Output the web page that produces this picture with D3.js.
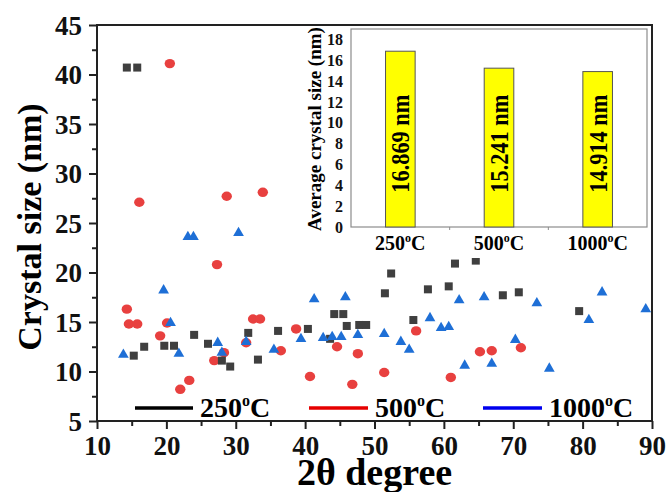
<!DOCTYPE html>
<html>
<head>
<meta charset="utf-8">
<script src="https://cdn.jsdelivr.net/npm/d3@7"></script>
<style>
  body { margin: 0; background: #fff; }
  svg text { font-family: "Liberation Serif", "Times New Roman", serif; font-weight: bold; }
</style>
</head>
<body>
<div id="chart"></div>
<script>
// crystal size vs 2theta, three annealing temperatures
var pts250 = [[14.3,40.7],[15.8,40.7],[15.3,11.6],[16.8,12.5],[19.7,12.6],[21.1,12.6],[24.0,13.7],[26.0,12.8],
  [28.0,11.1],[29.2,10.5],[31.8,13.9],[33.2,11.2],[36.1,14.1],[40.4,14.3],[43.6,13.3],[44.2,15.8],[45.5,15.8],
  [46.0,14.6],[47.8,14.7],[48.8,14.7],[51.5,17.9],[52.4,19.9],[55.6,15.2],[57.7,18.3],[60.7,18.6],[61.6,20.9],
  [64.6,21.2],[68.5,17.7],[70.8,18.0],[79.5,16.1]];
var pts500 = [[20.5,41.1],[16.1,27.1],[28.7,27.7],[33.9,28.1],[14.3,16.3],[14.6,14.8],[15.8,14.8],[19.1,13.6],
  [20.1,14.9],[22.0,8.2],[23.3,9.1],[27.3,20.8],[26.9,11.1],[28.3,11.9],[31.5,12.9],[32.5,15.3],[33.5,15.3],
  [36.5,12.1],[38.7,14.3],[40.7,9.5],[44.6,12.5],[47.6,11.8],[46.8,8.7],[51.4,9.9],[56.0,14.1],[61.0,9.4],
  [65.2,12.0],[66.9,12.1],[71.1,12.4]];
var pts1000 = [[13.8,11.7],[19.6,18.2],[20.6,14.9],[21.8,11.8],[23.1,23.6],[23.9,23.6],[30.4,24.0],[27.4,12.9],
  [28.0,11.9],[31.5,13.0],[35.5,12.2],[39.4,13.3],[41.3,17.3],[42.6,13.4],[43.9,13.5],[45.2,13.5],[45.8,17.5],
  [47.6,13.7],[51.4,13.8],[53.8,13.0],[55.0,12.2],[58.0,15.4],[59.6,14.4],[60.7,14.5],[62.2,17.2],[63.0,10.6],
  [65.8,17.5],[66.9,10.8],[70.3,13.2],[73.4,16.9],[75.2,10.3],[80.9,15.2],[82.8,18.0],[89.1,16.3]];

var xTicks = [10, 20, 30, 40, 50, 60, 70, 80, 90];
var yTicks = [5, 10, 15, 20, 25, 30, 35, 40, 45];

// inset
var temps = ["250", "500", "1000"];
var avgSize = [16.869, 15.241, 14.914];
var insetTicks = [0, 2, 4, 6, 8, 10, 12, 14, 16, 18];

(function draw() {
    var width = 669, height = 492;
    var pLeft = 97, pRight = 652, pTop = 25, pBottom = 421;

    var svg = d3.select("#chart").append("svg")
        .attr("width", width)
        .attr("height", height);

    var x = d3.scaleLinear().domain([10, 90]).range([pLeft, pRight]);
    var y = d3.scaleLinear().domain([5, 45]).range([pBottom, pTop]);

    // frame
    svg.append("rect")
        .attr("x", pLeft).attr("y", pTop)
        .attr("width", pRight - pLeft).attr("height", pBottom - pTop)
        .attr("fill", "none").attr("stroke", "#222").attr("stroke-width", 2);

    // axes
    var xAxis = svg.append("g").attr("transform", "translate(0," + pBottom + ")")
        .call(d3.axisBottom(x).tickValues(xTicks).tickSize(8).tickPadding(5));
    var xMinor = svg.append("g").attr("transform", "translate(0," + pBottom + ")")
        .call(d3.axisBottom(x).tickValues(d3.range(15, 90, 10)).tickSize(5).tickFormat(""));
    var yAxis = svg.append("g").attr("transform", "translate(" + pLeft + ",0)")
        .call(d3.axisLeft(y).tickValues(yTicks).tickSize(8).tickPadding(7));
    var yMinor = svg.append("g").attr("transform", "translate(" + pLeft + ",0)")
        .call(d3.axisLeft(y).tickValues(d3.range(7.5, 45, 5)).tickSize(5).tickFormat(""));

    [xAxis, xMinor, yAxis, yMinor].forEach(function(g) {
        g.select(".domain").remove();
        g.selectAll("line").attr("stroke", "#222").attr("stroke-width", 2);
        g.selectAll("text").attr("fill", "#111").style("font-size", "27px");
    });
    xAxis.selectAll("text").attr("dy", "0.78em");
    yAxis.selectAll("text").attr("dy", "0.34em");

    // axis titles
    svg.append("text")
        .attr("x", (pLeft + pRight) / 2).attr("y", 485)
        .attr("text-anchor", "middle")
        .style("font-size", "38px")
        .text("2θ degree");

    svg.append("text")
        .attr("transform", "translate(41,227) rotate(-90)")
        .attr("text-anchor", "middle")
        .style("font-size", "34px")
        .text("Crystal size (nm)");

    // points
    svg.append("g").selectAll("ellipse")
        .data(pts500).join("ellipse")
        .attr("cx", function(d) { return x(d[0]); })
        .attr("cy", function(d) { return y(d[1]); })
        .attr("rx", 5.2).attr("ry", 4.7)
        .attr("fill", "#e8403f");

    svg.append("g").selectAll("rect")
        .data(pts250).join("rect")
        .attr("x", function(d) { return x(d[0]) - 4; })
        .attr("y", function(d) { return y(d[1]) - 4; })
        .attr("width", 8).attr("height", 8)
        .attr("fill", "#3f3f3f");

    var tri = d3.symbol().type(d3.symbolTriangle).size(50);
    svg.append("g").selectAll("path")
        .data(pts1000).join("path")
        .attr("d", tri)
        .attr("transform", function(d) { return "translate(" + x(d[0]) + "," + y(d[1]) + ")"; })
        .attr("fill", "#1e6fd6");

    // legend
    var legend = [
        { label: "250", color: "#000", x1: 135, x2: 193 },
        { label: "500", color: "#e60000", x1: 309, x2: 368 },
        { label: "1000", color: "#0000ee", x1: 483, x2: 542 }
    ];
    legend.forEach(function(l) {
        svg.append("line")
            .attr("x1", l.x1).attr("x2", l.x2)
            .attr("y1", 408).attr("y2", 408)
            .attr("stroke", l.color).attr("stroke-width", 3.5);
        var t = svg.append("text")
            .attr("x", l.x2 + 7).attr("y", 417)
            .style("font-size", "28px");
        t.append("tspan").text(l.label);
        t.append("tspan").attr("dy", -11).style("font-size", "16px").text("o");
        t.append("tspan").attr("dy", 11).text("C");
    });

    // inset bar chart
    var iLeft = 351, iRight = 647, iTop = 29, iBottom = 227;

    svg.append("rect")
        .attr("x", 283).attr("y", 26)
        .attr("width", pRight - 284).attr("height", 232)
        .attr("fill", "#fff");

    var ix = d3.scaleBand().domain(temps).range([iLeft, iRight]).paddingInner(0.7).paddingOuter(0.35);
    var iy = d3.scaleLinear().domain([0, 19]).range([iBottom, iTop]);

    svg.append("rect")
        .attr("x", iLeft).attr("y", iTop)
        .attr("width", iRight - iLeft).attr("height", iBottom - iTop)
        .attr("fill", "none").attr("stroke", "#8c8c8c").attr("stroke-width", 1.2);

    svg.append("g").selectAll("rect")
        .data(avgSize).join("rect")
        .attr("x", function(d, i) { return ix(temps[i]); })
        .attr("y", function(d) { return iy(d); })
        .attr("width", ix.bandwidth())
        .attr("height", function(d) { return iBottom - iy(d); })
        .attr("fill", "#ffff00")
        .attr("stroke", "#555").attr("stroke-width", 1);

    svg.append("g").selectAll("text")
        .data(avgSize).join("text")
        .attr("transform", function(d, i) {
            return "translate(" + (ix(temps[i]) + ix.bandwidth() / 2) + "," + iy(8) + ") rotate(-90)";
        })
        .attr("text-anchor", "middle")
        .attr("dy", "0.35em")
        .attr("textLength", 98)
        .attr("lengthAdjust", "spacingAndGlyphs")
        .style("font-size", "26px")
        .text(function(d) { return d.toFixed(3) + " nm"; });

    var iyAxis = svg.append("g").attr("transform", "translate(" + iLeft + ",0)")
        .call(d3.axisLeft(iy).tickValues(insetTicks).tickSize(0).tickPadding(8));
    iyAxis.select(".domain").remove();
    iyAxis.selectAll("text").attr("fill", "#111").style("font-size", "16px");

    // small ticks between categories
    svg.append("g").selectAll("line")
        .data(temps.slice(1)).join("line")
        .attr("x1", function(d) { return ix(d) - ix.step() * 0.35; })
        .attr("x2", function(d) { return ix(d) - ix.step() * 0.35; })
        .attr("y1", iBottom).attr("y2", iBottom + 3)
        .attr("stroke", "#8c8c8c");

    temps.forEach(function(t) {
        var lab = svg.append("text")
            .attr("x", ix(t) + ix.bandwidth() / 2).attr("y", 250)
            .attr("text-anchor", "middle")
            .style("font-size", "20px");
        lab.append("tspan").text(t);
        lab.append("tspan").attr("dy", -8).style("font-size", "12px").text("o");
        lab.append("tspan").attr("dy", 8).text("C");
    });

    svg.append("text")
        .attr("transform", "translate(321,129) rotate(-90)")
        .attr("text-anchor", "middle")
        .style("font-size", "19px")
        .text("Average crystal size (nm)");
})();
</script>
</body>
</html>
